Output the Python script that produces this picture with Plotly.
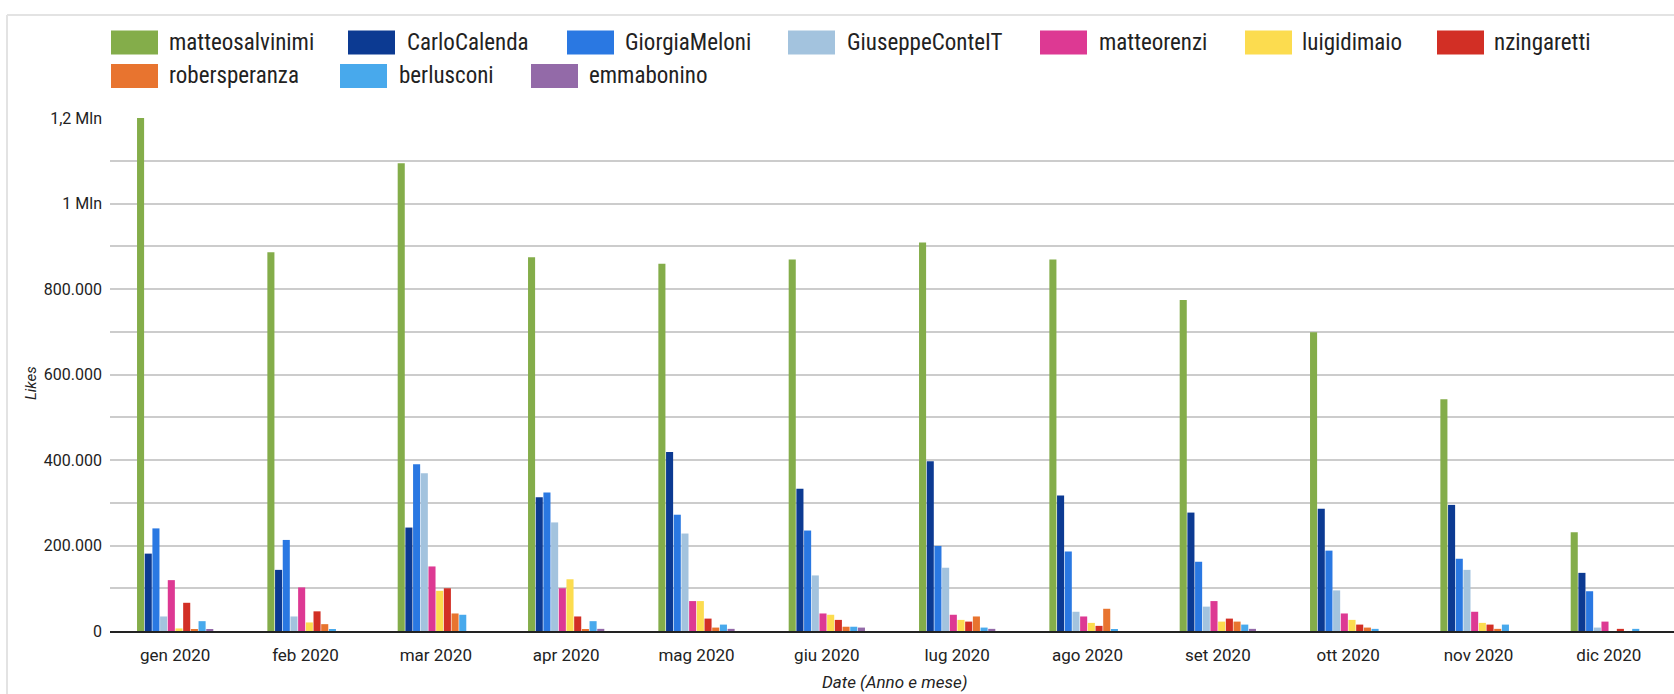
import plotly.graph_objects as go

months = ["gen 2020", "feb 2020", "mar 2020", "apr 2020", "mag 2020", "giu 2020",
          "lug 2020", "ago 2020", "set 2020", "ott 2020", "nov 2020", "dic 2020"]

matteosalvinimi = [1200000, 886000, 1094000, 874000, 859000, 869000, 909000, 869000, 774000, 699000, 542000, 231000]
CarloCalenda    = [181000, 143000, 242000, 313000, 419000, 333000, 397000, 317000, 277000, 286000, 295000, 136000]
GiorgiaMeloni   = [240000, 213000, 390000, 324000, 272000, 235000, 199000, 186000, 162000, 188000, 169000, 93000]
GiuseppeConteIT = [34000, 34000, 369000, 254000, 228000, 130000, 148000, 45000, 57000, 95000, 143000, 8000]
matteorenzi     = [119000, 102000, 151000, 100000, 70000, 41000, 38000, 34000, 70000, 41000, 45000, 22000]
luigidimaio     = [6000, 20000, 94000, 121000, 70000, 38000, 26000, 19000, 22000, 26000, 19000, 0]
nzingaretti     = [66000, 46000, 100000, 34000, 29000, 26000, 22000, 12000, 29000, 15000, 15000, 5000]
robersperanza   = [4000, 16000, 41000, 3000, 8000, 10000, 34000, 52000, 22000, 8000, 5000, 0]
berlusconi      = [23000, 4000, 38000, 23000, 15000, 10000, 8000, 3000, 15000, 5000, 15000, 5000]
emmabonino      = [4000, 0, 0, 5000, 5000, 8000, 5000, 0, 5000, 0, 0, 0]

series_names = ["matteosalvinimi", "CarloCalenda", "GiorgiaMeloni", "GiuseppeConteIT", "matteorenzi",
                "luigidimaio", "nzingaretti", "robersperanza", "berlusconi", "emmabonino"]
series_values = [matteosalvinimi, CarloCalenda, GiorgiaMeloni, GiuseppeConteIT, matteorenzi,
                 luigidimaio, nzingaretti, robersperanza, berlusconi, emmabonino]
colors = ["#84ad4a", "#0c3a92", "#2a78e2", "#a3c3de", "#dd3993",
          "#fcdc4f", "#d22f25", "#e8742f", "#48a9ec", "#936aa8"]

ytick_vals = [0, 200000, 400000, 600000, 800000, 1000000, 1200000]
ytick_text = ["0", "200.000", "400.000", "600.000", "800.000", "1 Mln", "1,2 Mln"]

W, H = 1674, 694
L, R, T, B = 110, 0, 118, 63
pw, ph = W - L - R, H - T - B


def px(x):
    return (x - L) / pw


def py(y):
    return (H - B - y) / ph


fig = go.Figure()
for name, vals, col in zip(series_names, series_values, colors):
    fig.add_trace(go.Bar(x=months, y=vals, name=name, marker=dict(color=col, line=dict(width=0))))

XTICKFONT = dict(family="Roboto, sans-serif", size=17, color="#222222")
YTICKFONT = dict(family="Roboto, sans-serif", size=16, color="#222222")

fig.update_layout(
    width=W, height=H,
    margin=dict(l=L, r=R, t=T, b=B),
    paper_bgcolor="white", plot_bgcolor="white",
    barmode="group", bargap=0.41, bargroupgap=0.08,
    showlegend=False,
    xaxis=dict(showgrid=False, showline=True, linecolor="#222222", linewidth=2,
               tickfont=XTICKFONT, ticks="", ticklabelstandoff=8, fixedrange=True),
    yaxis=dict(range=[0, 1200000], tickvals=ytick_vals, ticktext=ytick_text,
               showgrid=True, gridcolor="#cccccc", gridwidth=1.5, zeroline=False,
               minor=dict(dtick=100000, showgrid=True, gridcolor="#cccccc", gridwidth=1.5),
               tickfont=YTICKFONT, ticks="", ticklabelstandoff=7, fixedrange=True),
)

shapes = []
annotations = []
# frame
shapes.append(dict(type="line", xref="paper", yref="paper", x0=px(7), x1=px(W), y0=py(15), y1=py(15),
                   line=dict(color="#e3e3e3", width=2)))
shapes.append(dict(type="line", xref="paper", yref="paper", x0=px(7), x1=px(7), y0=py(15), y1=py(H),
                   line=dict(color="#e3e3e3", width=2)))

# custom legend
legend_pos = [(111, 167, 42.5), (348, 405, 42.5), (567, 623, 42.5), (788, 845, 42.5),
              (1040, 1097, 42.5), (1245, 1300, 42.5), (1437, 1492, 42.5),
              (111, 167, 76), (340, 397, 76), (531, 587, 76)]
LEGFONT = dict(family="Liberation Sans Narrow, Roboto Condensed, Roboto, sans-serif", size=23, color="#222222")
for (sx, tx, cy), name, col in zip(legend_pos, series_names, colors):
    shapes.append(dict(type="rect", xref="paper", yref="paper", x0=px(sx), x1=px(sx + 47),
                       y0=py(cy + 12), y1=py(cy - 12), fillcolor=col, line=dict(width=0)))
    annotations.append(dict(text=name, xref="paper", yref="paper", x=px(tx), y=py(cy),
                            xanchor="left", yanchor="middle", showarrow=False, font=LEGFONT))

annotations.append(dict(text="<i>Likes</i>", xref="paper", yref="paper", x=px(31), y=py(383),
                        textangle=-90, showarrow=False, xanchor="center", yanchor="middle",
                        font=dict(family="Roboto, sans-serif", size=15, color="#222222")))
annotations.append(dict(text="<i>Date (Anno e mese)</i>", xref="paper", yref="paper", x=px(894), y=py(682),
                        showarrow=False, xanchor="center", yanchor="middle",
                        font=dict(family="Roboto, sans-serif", size=17, color="#222222")))

fig.update_layout(shapes=shapes, annotations=annotations)
fig.write_html("out.html", config={"displayModeBar": False},
               post_script="document.body.style.margin='0';document.body.style.overflow='hidden';")
